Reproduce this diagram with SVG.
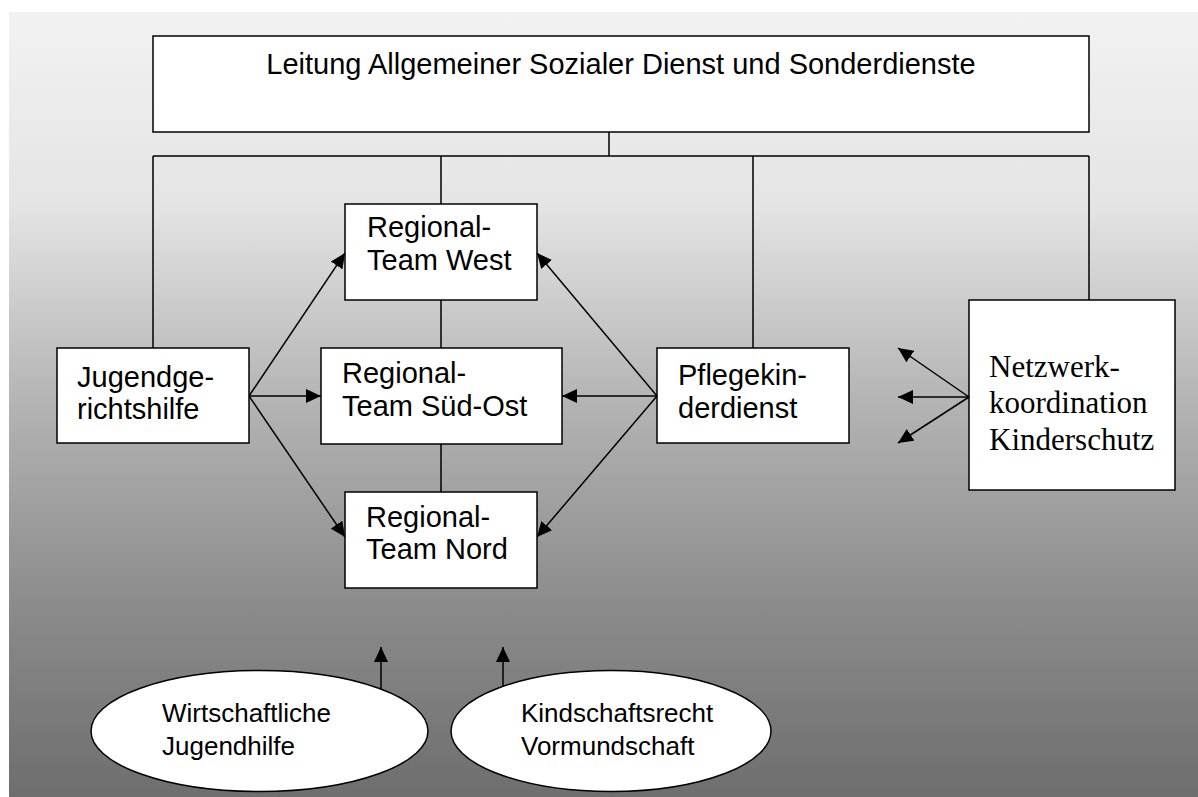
<svg xmlns="http://www.w3.org/2000/svg" width="1198" height="797" viewBox="0 0 1198 797">
<style>
.box{fill:#fff;stroke:#000;stroke-width:1.5}
.t{font-family:"Liberation Sans",Arial,sans-serif;font-size:29px;fill:#000}
.te{font-family:"Liberation Sans",Arial,sans-serif;font-size:26px;fill:#000}
.ts{font-family:"Liberation Serif","Times New Roman",serif;font-size:31px;fill:#000}
.ln{fill:none;stroke:#000;stroke-width:1.5}
.ar{fill:none;stroke:#000;stroke-width:1.5;marker-end:url(#ah)}
</style>
<defs>
<linearGradient id="bg" x1="0" y1="0" x2="0" y2="1">
<stop offset="0" stop-color="#f2f2f2"/>
<stop offset="0.24" stop-color="#e5e5e5"/>
<stop offset="0.49" stop-color="#b5b5b5"/>
<stop offset="0.75" stop-color="#8c8c8c"/>
<stop offset="1" stop-color="#6e6e6e"/>
</linearGradient>
<marker id="ah" markerUnits="userSpaceOnUse" markerWidth="16" markerHeight="14" refX="15" refY="7" orient="auto">
<path d="M0,0 L15,7 L0,14 z" fill="#000"/>
</marker>
</defs>
<rect x="9" y="12" width="1189" height="785" fill="url(#bg)"/>
<g id="connectors">
<path class="ln" d="M609,132 V156 M153,156 H1089 M153,156 V348 M441,156 V204 M753,156 V348 M1089,156 V300 M441,300 V348 M441,444 V492"/>
<line class="ar" x1="249" y1="396" x2="345" y2="253"/>
<line class="ar" x1="249" y1="396" x2="321" y2="396"/>
<line class="ar" x1="249" y1="396" x2="345" y2="537"/>
<line class="ar" x1="657" y1="396" x2="537" y2="253"/>
<line class="ar" x1="657" y1="396" x2="562" y2="396"/>
<line class="ar" x1="657" y1="396" x2="537" y2="537"/>
<line class="ar" x1="969" y1="397" x2="898" y2="348"/>
<line class="ar" x1="969" y1="397" x2="898" y2="397"/>
<line class="ar" x1="969" y1="397" x2="898" y2="443"/>
<line class="ar" x1="381" y1="689" x2="381" y2="647"/>
<line class="ar" x1="503" y1="687" x2="503" y2="647"/>
</g>
<g id="leitung">
<rect class="box" x="153" y="36" width="936" height="96"/>
<text class="t" x="621" y="74" text-anchor="middle">Leitung Allgemeiner Sozialer Dienst und Sonderdienste</text>
</g>
<g id="jugendgerichtshilfe">
<rect class="box" x="57" y="348" width="192" height="95"/>
<text class="t" x="77" y="387">Jugendge-</text>
<text class="t" x="77" y="419">richtshilfe</text>
</g>
<g id="west">
<rect class="box" x="345" y="204" width="192" height="96"/>
<text class="t" x="367" y="237">Regional-</text>
<text class="t" x="367" y="270">Team West</text>
</g>
<g id="suedost">
<rect class="box" x="321" y="348" width="241" height="96"/>
<text class="t" x="342" y="383">Regional-</text>
<text class="t" x="342" y="416">Team Süd-Ost</text>
</g>
<g id="nord">
<rect class="box" x="345" y="492" width="192" height="96"/>
<text class="t" x="366" y="527">Regional-</text>
<text class="t" x="366" y="559">Team Nord</text>
</g>
<g id="pflegekinderdienst">
<rect class="box" x="657" y="348" width="192" height="95"/>
<text class="t" x="678" y="385">Pflegekin-</text>
<text class="t" x="678" y="418">derdienst</text>
</g>
<g id="netzwerk">
<rect class="box" x="969" y="300" width="206" height="190"/>
<text class="ts" x="989" y="377">Netzwerk-</text>
<text class="ts" x="989" y="413">koordination</text>
<text class="ts" x="989" y="450">Kinderschutz</text>
</g>
<g id="wirtschaftliche">
<ellipse class="box" cx="259.5" cy="731" rx="168.5" ry="60.5"/>
<text class="te" x="162" y="722">Wirtschaftliche</text>
<text class="te" x="162" y="755">Jugendhilfe</text>
</g>
<g id="kindschaftsrecht">
<ellipse class="box" cx="611" cy="731" rx="160" ry="60.5"/>
<text class="te" x="521" y="722">Kindschaftsrecht</text>
<text class="te" x="521" y="755">Vormundschaft</text>
</g>
</svg>
